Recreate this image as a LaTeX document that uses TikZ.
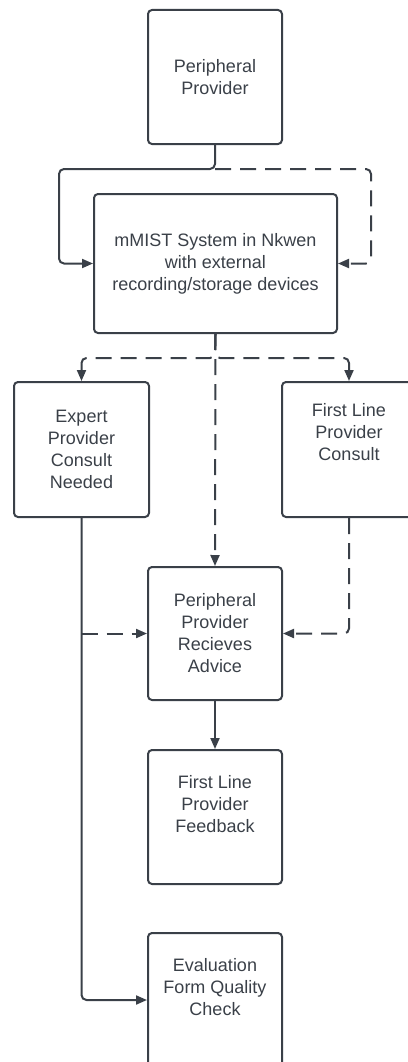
\documentclass[tikz,border=0pt]{standalone}
\usepackage{fontspec}
\setmainfont{Liberation Sans}
\usepackage{tikz}
\usetikzlibrary{arrows.meta,calc}
\usetikzlibrary{positioning}
\definecolor{ink}{RGB}{58,64,72}
\tikzset{
    %Define standard arrow tip
    >={Triangle[length=11pt,width=9pt]},
    % Define box style
    blok/.style={
           draw=ink,
           line width=2pt,
           rounded corners=4pt,
           text=ink,
           align=center,
           font=\fontsize{18}{22}\selectfont,
           inner sep=0pt,
           },
    % Define arrow styles
    pil/.style={
           ->,
           draw=ink,
           line width=2pt,
           rounded corners=5pt,
           },
    pilar/.style={
           pil,
           dash pattern=on 16pt off 9pt,
}
}
\begin{document}
\begin{tikzpicture}[x=1pt,y=-1pt]
	\useasboundingbox (0,0) rectangle (407,1062);
  	\node[blok,minimum width=134pt,minimum height=134pt] (pp) at (215,77) {Peripheral\\Provider};
  	\node[blok,minimum width=243pt,minimum height=139pt] (mm) at (215.5,263.5) {mMIST System in Nkwen\\with external\\recording/storage devices};
  	\node[blok,minimum width=135pt,minimum height=135pt] (ex) at (81.5,449.5) {Expert\\Provider\\Consult\\Needed};
  	\node[blok,minimum width=134pt,minimum height=135pt] (fl) at (349,449.5) {First Line\\Provider\\Consult\\[14pt]};
  	\node[blok,minimum width=134pt,minimum height=133pt] (ad) at (215,633.5) {Peripheral\\Provider\\Recieves\\Advice};
  	\node[blok,minimum width=134pt,minimum height=134pt] (fb) at (215,817) {First Line\\Provider\\Feedback\\[4pt]};
  	\node[blok,minimum width=134pt,minimum height=134pt] (ev) at (215,1000) {Evaluation\\Form Quality\\Check\\[4pt]};
  	\coordinate (j1) at (215,169);
  	\coordinate (sL) at (59,169);
  	\coordinate (sR) at (371,169);
  	\coordinate (j2) at (215,358);
  	\coordinate (bL) at (ex.south |- ad.west);
%  	\draw [pil] (pp.south) -- (mm.north);
  	\draw [pil] (pp.south) |- (sL) |- (mm.west);
  	\draw [pilar] (j1) -- (sR) |- (mm.east);
  	\draw [pilar] (mm.south) -- (j2) -| (ex.north);
  	\draw [pilar] (mm.south) -- (j2) -| (fl.north);
  	\draw [pilar] (mm.south) -- (ad.north);
  	\draw [pil] (ex.south) |- (ev.west);
  	\draw [pilar] (bL) -- (ad.west);
  	\draw [pilar] (fl.south) |- (ad.east);
  	\draw [pil] (ad.south) -- (fb.north);
\end{tikzpicture}
\end{document}
